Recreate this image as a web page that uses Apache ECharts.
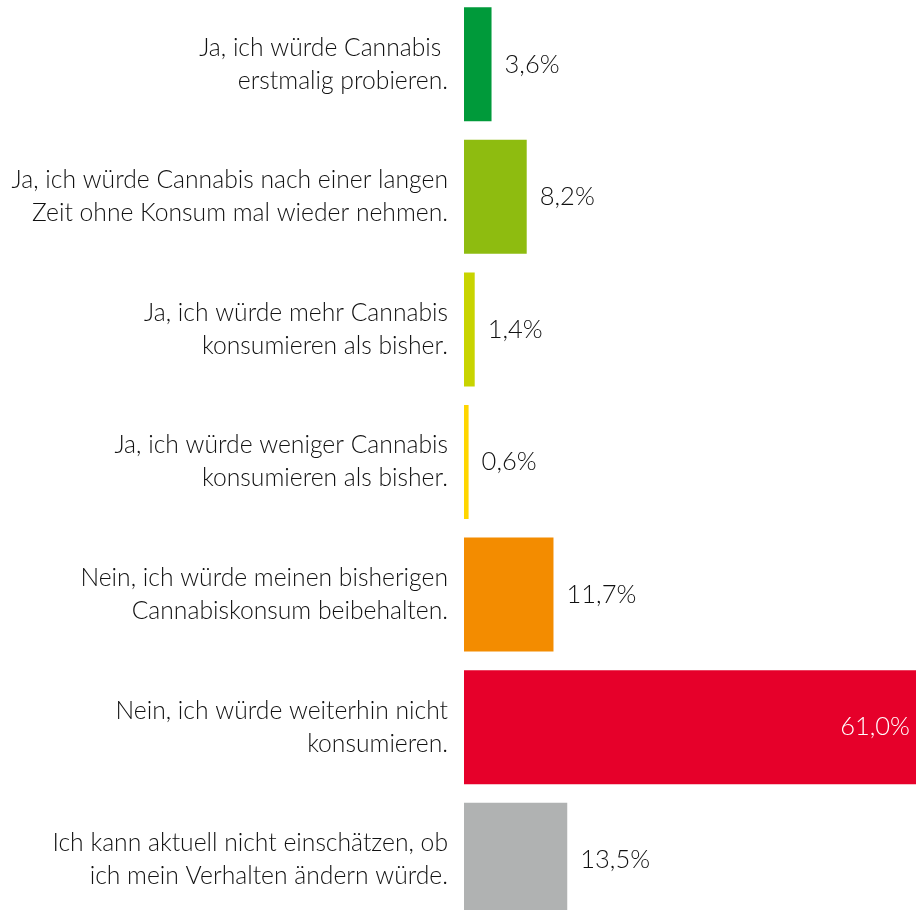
<!DOCTYPE html>
<html><head><meta charset="utf-8">
<script src="https://cdn.jsdelivr.net/npm/echarts@6/dist/echarts.min.js"></script>
<style>html,body{margin:0;padding:0;background:#fff;overflow:hidden;width:916px;height:910px}#c{position:absolute;left:0;top:-2px;width:916px;height:928px}</style>
</head><body><div id="c"></div>
<script>
const categories = [
  "Ja, ich würde Cannabis \nerstmalig probieren.",
  "Ja, ich würde Cannabis nach einer langen\nZeit ohne Konsum mal wieder nehmen.",
  "Ja, ich würde mehr Cannabis\nkonsumieren als bisher.",
  "Ja, ich würde weniger Cannabis\nkonsumieren als bisher.",
  "Nein, ich würde meinen bisherigen\nCannabiskonsum beibehalten.",
  "Nein, ich würde weiterhin nicht\nkonsumieren.",
  "Ich kann aktuell nicht einschätzen, ob\nich mein Verhalten ändern würde."
];
const values = [3.6, 8.2, 1.4, 0.6, 11.7, 61.0, 13.5];
const colors = ["#009a3a", "#8ebc10", "#c8d400", "#ffd600", "#f38c00", "#e6002a", "#b0b2b2"];

const FONT = "Lato";
const chart = echarts.init(document.getElementById('c'));
chart.setOption({
  animation: false,
  grid: { left: 464, width: 452, top: 0, bottom: 0 },
  xAxis: { type: 'value', min: 0, max: 59.1, show: false },
  yAxis: {
    type: 'category', data: categories, inverse: true,
    axisLine: { show: false }, axisTick: { show: false },
    axisLabel: { margin: 16, fontFamily: FONT, fontSize: 24.7, fontWeight: 300, color: '#111111', lineHeight: 33, align: 'right' }
  },
  series: [{
    type: 'bar',
    barCategoryGap: '14%',
    data: values.map((v, i) => ({
      value: v,
      itemStyle: { color: colors[i] },
      label: v > 50 ? { position: 'insideRight', distance: 6, color: '#ffffff' } : {}
    })),
    label: {
      show: true, position: 'right', distance: 13,
      fontFamily: FONT, fontSize: 25.5, fontWeight: 300, color: '#111111',
      formatter: p => p.value.toFixed(1).replace('.', ',') + '%'
    }
  }]
});
</script></body></html>
